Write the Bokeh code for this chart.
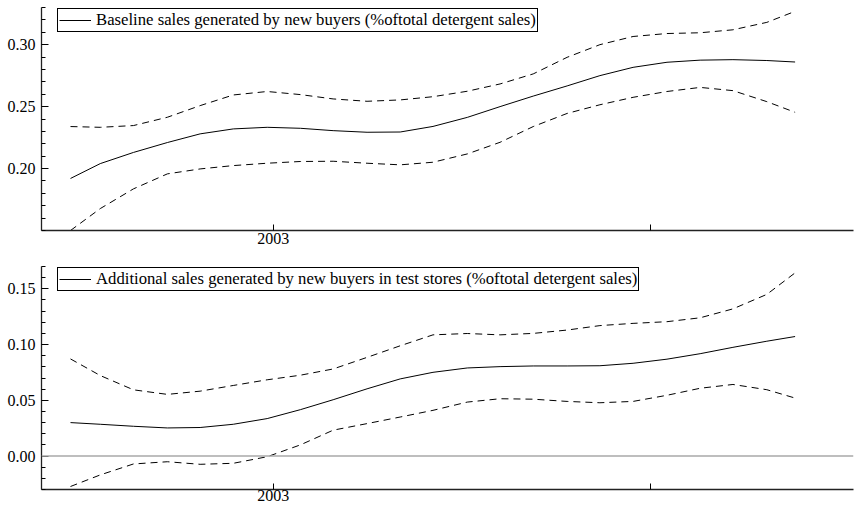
from bokeh.plotting import figure
from bokeh.layouts import column
from bokeh.models import (FixedTicker, Span, Legend, LegendItem, Range1d,
                          PrintfTickFormatter)
from bokeh.embed import file_html
from bokeh.resources import INLINE

# ---- data ----
x_years = [2002.462, 2002.541, 2002.629, 2002.719, 2002.806, 2002.894, 2002.984,
           2003.072, 2003.159, 2003.249, 2003.337, 2003.424, 2003.515, 2003.602,
           2003.690, 2003.780, 2003.867, 2003.955, 2004.045, 2004.133, 2004.220,
           2004.310, 2004.385]

base_mean = [0.192, 0.204, 0.213, 0.221, 0.228, 0.232, 0.2333, 0.2325, 0.2306,
             0.2293, 0.2295, 0.234, 0.2413, 0.250, 0.2585, 0.2667, 0.275, 0.2817,
             0.2858, 0.2875, 0.2879, 0.2872, 0.286]
base_upper = [0.2339, 0.2333, 0.2347, 0.2414, 0.2508, 0.2594, 0.2622, 0.2597,
              0.2562, 0.2543, 0.2554, 0.258, 0.2624, 0.2683, 0.2764, 0.2898,
              0.300, 0.3066, 0.309, 0.3096, 0.312, 0.318, 0.3269]
base_lower = [0.150, 0.1677, 0.1836, 0.1957, 0.1997, 0.2024, 0.2043, 0.2057,
              0.2059, 0.2043, 0.203, 0.2051, 0.2118, 0.2212, 0.2339, 0.2445,
              0.2515, 0.2575, 0.2622, 0.2655, 0.2629, 0.254, 0.2454]

add_mean = [0.030, 0.0285, 0.0267, 0.0252, 0.0256, 0.0285, 0.0336, 0.0416,
            0.0505, 0.0603, 0.0692, 0.0751, 0.079, 0.0802, 0.0808, 0.0808,
            0.081, 0.0832, 0.0869, 0.0918, 0.0975, 0.103, 0.1072]
add_upper = [0.0871, 0.0722, 0.0594, 0.0553, 0.0582, 0.0633, 0.0684, 0.0725,
             0.0781, 0.0885, 0.0989, 0.1087, 0.1099, 0.1087, 0.110, 0.113,
             0.117, 0.119, 0.1205, 0.124, 0.132, 0.145, 0.1643]
add_lower = [-0.0273, -0.0169, -0.0071, -0.0051, -0.0074, -0.0065, -0.0006,
             0.010, 0.0232, 0.0291, 0.035, 0.041, 0.0484, 0.0514, 0.051, 0.049,
             0.0478, 0.049, 0.0545, 0.0608, 0.0642, 0.0595, 0.052]

x_ticks = [2003, 2004]
x_tick_labels = {2003: "2003", 2004: ""}

top_label = "Baseline sales generated by new buyers (%oftotal detergent sales)"
bot_label = "Additional sales generated by new buyers in test stores (%oftotal detergent sales)"

top_yticks = [0.20, 0.25, 0.30]
top_yminor = [0.15, 0.16, 0.17, 0.18, 0.19, 0.21, 0.22, 0.23, 0.24, 0.26,
              0.27, 0.28, 0.29, 0.31, 0.32, 0.33]
bot_yticks = [0.00, 0.05, 0.10, 0.15]
bot_yminor = [-0.03, -0.02, -0.01, 0.01, 0.02, 0.03, 0.04, 0.06, 0.07, 0.08,
              0.09, 0.11, 0.12, 0.13, 0.14, 0.16, 0.17]

FONT = "Liberation Serif"
FRAME_H = 223


def panel(mean, upper, lower, label, yr, yticks, yminor, border_top,
          border_bottom, xstandoff, zero_line):
    p = figure(frame_width=812, frame_height=FRAME_H, output_backend="svg",
               toolbar_location=None,
               x_range=Range1d(2002.385, 2004.54), y_range=Range1d(*yr),
               min_border_left=41, min_border_right=4,
               min_border_top=border_top, min_border_bottom=border_bottom)
    p.outline_line_color = None
    p.grid.visible = False
    p.background_fill_color = "white"
    p.border_fill_color = "white"

    if zero_line:
        p.add_layout(Span(location=0, dimension="width", line_color="#a8a8a8",
                          line_width=1.5))

    r = p.line(x_years, mean, line_color="black", line_width=1)
    p.line(x_years, upper, line_color="black", line_width=1, line_dash="7 5")
    p.line(x_years, lower, line_color="black", line_width=1, line_dash="7 5")

    for ax in (p.xaxis[0], p.yaxis[0]):
        ax.axis_line_color = "#222222"
        ax.axis_line_width = 1.3
        ax.major_tick_line_color = "black"
        ax.minor_tick_line_color = "black"
        ax.major_label_text_font = FONT
        ax.major_label_text_font_size = "16px"
        ax.major_label_text_color = "black"

    p.xaxis.ticker = FixedTicker(ticks=x_ticks, minor_ticks=[])
    p.xaxis.major_label_overrides = x_tick_labels
    p.xaxis.major_tick_in = 6
    p.xaxis.major_tick_out = 0
    p.xaxis.major_label_standoff = xstandoff

    p.yaxis.ticker = FixedTicker(ticks=yticks, minor_ticks=yminor)
    p.yaxis.formatter = PrintfTickFormatter(format="%.2f")
    p.yaxis.major_tick_in = 7
    p.yaxis.major_tick_out = 0
    p.yaxis.minor_tick_in = 4
    p.yaxis.minor_tick_out = 0
    p.yaxis.major_label_standoff = 6

    leg = Legend(items=[LegendItem(label=label, renderers=[r])],
                 location=(16, FRAME_H - 5 - 20))
    leg.border_line_color = "black"
    leg.border_line_width = 1
    leg.border_line_alpha = 1
    leg.background_fill_color = "white"
    leg.background_fill_alpha = 1
    leg.padding = 1
    leg.margin = 0
    leg.spacing = 0
    leg.glyph_width = 32
    leg.glyph_height = 14
    leg.label_height = 14
    leg.label_standoff = 5
    leg.label_text_font = FONT
    leg.label_text_font_size = "16.7px"
    leg.label_text_color = "black"
    p.add_layout(leg, "center")
    return p


p1 = panel(base_mean, base_upper, base_lower, top_label, (0.15, 0.33),
           top_yticks, top_yminor, 7, 34, 2, False)
p2 = panel(add_mean, add_upper, add_lower, bot_label, (-0.03, 0.17),
           bot_yticks, bot_yminor, 2, 8, 0, True)

p = column(p1, p2, spacing=0)

open("out.html", "w").write(file_html(p, INLINE))
